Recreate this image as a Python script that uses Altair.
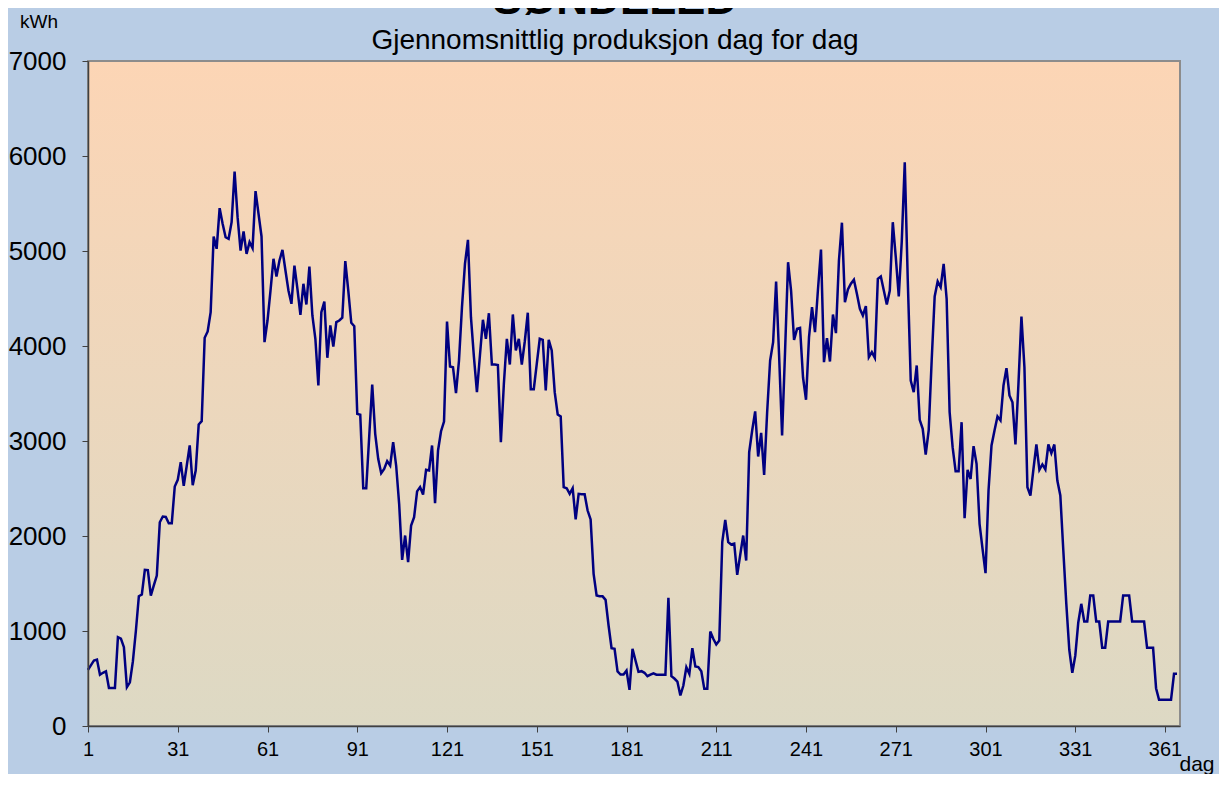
import altair as alt
import pandas as pd

# ---- data ----
days = list(range(1, 366))
kwh = [
    590, 640, 690, 700, 540, 560, 575, 400, 400, 400,          # 1-10
    935, 920, 830, 410, 460, 680, 1000, 1366, 1384, 1644,     # 11-20
    1640, 1373, 1480, 1584, 2145, 2205, 2200, 2135, 2135, 2521,  # 21-30
    2591, 2777, 2528, 2740, 2953, 2535, 2689, 3174, 3209, 4086,  # 31-40
    4153, 4356, 5153, 5023, 5451, 5286, 5145, 5128, 5303, 5837,  # 41-50
    5356, 5005, 5205, 4970, 5093, 5030, 5630, 5391, 5153, 4040,  # 51-60
    4268, 4584, 4918, 4732, 4900, 5012, 4795, 4584, 4444, 4847,  # 61-70
    4602, 4328, 4655, 4437, 4837, 4321, 4076, 3584, 4356, 4468,  # 71-80
    3876, 4216, 3995, 4251, 4268, 4297, 4893, 4584, 4244, 4209,  # 81-90
    3286, 3276, 2503, 2503, 3050, 3595, 3076, 2812, 2661, 2707,  # 91-100
    2788, 2742, 2988, 2742, 2339, 1749, 2005, 1724, 2111, 2198,  # 101-110
    2470, 2515, 2437, 2697, 2689, 2953, 2346, 2900, 3103, 3205,  # 111-120
    4258, 3784, 3777, 3503, 3847, 4409, 4865, 5118, 4303, 3882,  # 121-130
    3514, 3900, 4276, 4076, 4345, 3805, 3805, 3800, 2988, 3600,  # 131-140
    4076, 3805, 4332, 3953, 4076, 3805, 4050, 4350, 3545, 3545,  # 141-150
    3812, 4076, 4065, 3532, 4065, 3953, 3514, 3279, 3258, 2514,  # 151-160
    2503, 2444, 2503, 2174, 2444, 2440, 2440, 2268, 2174, 1602,  # 161-170
    1374, 1365, 1365, 1328, 1058, 819, 812, 574, 542, 542,       # 171-180
    584, 380, 812, 689, 570, 577, 560, 524, 540, 555,            # 181-190
    540, 540, 540, 540, 1349, 524, 500, 468, 321, 426,           # 191-200
    619, 549, 819, 626, 620, 577, 391, 391, 995, 918,            # 201-210
    858, 900, 1935, 2170, 1935, 1910, 1920, 1592, 1800, 2005,    # 211-220
    1742, 2882, 3111, 3311, 2837, 3086, 2644, 3300, 3847, 4040,  # 221-230
    4679, 3900, 3058, 3950, 4882, 4584, 4065, 4181, 4190, 3668,  # 231-240
    3434, 4093, 4409, 4145, 4600, 5016, 3830, 4082, 3837, 4332,  # 241-250
    4135, 4900, 5298, 4461, 4595, 4655, 4697, 4549, 4391, 4321,  # 251-260
    4419, 3882, 3935, 3875, 4707, 4732, 4584, 4437, 4584, 5303,  # 261-270
    4935, 4521, 5100, 5935, 4700, 3637, 3514, 3795, 3223, 3128,  # 271-280
    2858, 3111, 3850, 4521, 4679, 4619, 4865, 4497, 3304, 2935,  # 281-290
    2682, 2682, 3198, 2188, 2697, 2600, 2946, 2760, 2128, 1865,  # 291-300
    1609, 2479, 2953, 3111, 3258, 3216, 3584, 3766, 3479, 3408,  # 301-310
    2963, 3600, 4311, 3777, 2514, 2426, 2700, 2963, 2697, 2753,  # 311-320
    2700, 2963, 2872, 2963, 2584, 2426, 1847, 1286, 800, 560,    # 321-330
    740, 1090, 1286, 1100, 1100, 1374, 1374, 1100, 1100, 823,    # 331-340
    823, 1100, 1100, 1100, 1100, 1100, 1374, 1374, 1374, 1100,   # 341-350
    1100, 1100, 1100, 1100, 823, 823, 823, 398, 276, 276,        # 351-360
    276, 276, 276, 549, 549,                                     # 361-365
]
x_ticks = [1, 31, 61, 91, 121, 151, 181, 211, 241, 271, 301, 331, 361]
y_ticks = [0, 1000, 2000, 3000, 4000, 5000, 6000, 7000]
title_text = ["SØNDELED"]
subtitle_text = ["Gjennomsnittlig produksjon dag for dag"]
y_unit = ["kWh"]
x_unit = ["dag"]

W, H = 1092, 665
FONT = "Liberation Sans"

df = pd.DataFrame({"dag": days, "kWh": kwh})

bg = alt.Chart(pd.DataFrame({"k": [0]})).mark_rect(
    color=alt.Gradient(
        gradient="linear",
        stops=[alt.GradientStop(color="#FCD5B5", offset=0),
               alt.GradientStop(color="#DDD9C4", offset=1)],
        x1=0, x2=0, y1=0, y2=1),
    stroke="#8C8C8C", strokeWidth=2,
).encode(x=alt.value(0), x2=alt.value(W), y=alt.value(0), y2=alt.value(H))

line = alt.Chart(df).mark_line(color="#000080", strokeWidth=2.5).encode(
    x=alt.X("dag:Q",
            scale=alt.Scale(domain=[1, 366], nice=False, zero=False),
            axis=alt.Axis(values=x_ticks, title=None, grid=False,
                          labelFont=FONT, labelFontSize=20, labelColor="#000000",
                          tickSize=6, tickColor="#404040", labelPadding=7,
                          domainColor="#404040", domainWidth=1.5, zindex=1,
                          labelFlush=False, labelOverlap=False)),
    y=alt.Y("kWh:Q",
            scale=alt.Scale(domain=[0, 7000], nice=False),
            axis=alt.Axis(values=y_ticks, format="d", title=None, grid=False,
                          labelFont=FONT, labelFontSize=26, labelColor="#000000",
                          tickSize=6, tickColor="#404040", labelPadding=16,
                          domainColor="#404040", domainWidth=1.5, zindex=1,
                          labelFlush=False, labelOverlap=False)),
)

def label(txt, x, y, size, weight="normal", align="center"):
    return alt.Chart(pd.DataFrame({"t": txt})).mark_text(
        font=FONT, fontSize=size, fontWeight=weight, color="#000000",
        align=align, baseline="alphabetic",
    ).encode(text="t:N", x=alt.value(x), y=alt.value(y))

title = label(title_text, 527, -47, 44, "bold")
subtitle = label(subtitle_text, 527, -12, 28)
ylab = label(y_unit, -49, -33, 19)
xlab = label(x_unit, 1109, 710, 21)

chart = alt.layer(bg, line, title, subtitle, ylab, xlab).properties(
    width=W, height=H,
    padding={"left": 80, "top": 53, "right": 39, "bottom": 48},
    autosize=alt.AutoSizeParams(type="none"),
    background="#B9CDE5",
).configure_view(strokeWidth=0)

chart.save("out.html", embed_options={"renderer": "svg", "actions": False})
